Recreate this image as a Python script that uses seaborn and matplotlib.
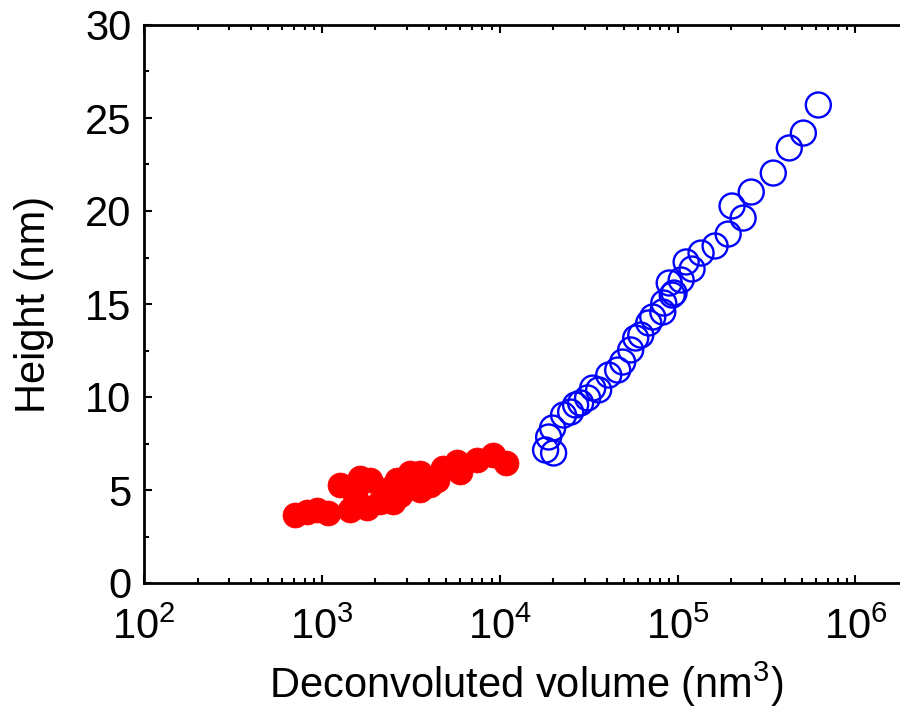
import numpy as np
import pandas as pd
import matplotlib
matplotlib.use("Agg")
import matplotlib.pyplot as plt
import seaborn as sns
from matplotlib.ticker import LogLocator, MultipleLocator

# --- data ---
red_volume = [708, 828, 942, 1086, 1270, 1445, 1542, 1644, 1803, 1874, 2133, 2275,
              2523, 2659, 2762, 3148, 3583, 3583, 4074, 4466, 4828, 5785, 6015,
              7498, 9225, 10790]
red_height = [3.66, 3.82, 3.92, 3.76, 5.27, 3.92, 4.73, 5.65, 4.03, 5.54, 4.35, 5.0,
              4.35, 5.54, 4.73, 5.91, 5.91, 5.0, 5.27, 5.54, 6.18, 6.51, 5.97,
              6.61, 6.88, 6.45]

blue_volume = [18110, 18840, 19830, 20090, 22850, 25050, 26710, 28490, 31190, 33330,
               35990, 41000, 46050, 49120, 54480, 58160, 62080, 68840, 72500, 82560,
               83600, 89700, 93300, 95500, 104700, 111700, 120600, 135500, 162500,
               192400, 202400, 233500, 259400, 345100, 424600, 509400, 618400]
blue_height = [7.15, 7.85, 8.33, 6.99, 9.03, 9.19, 9.57, 9.68, 9.95, 10.48,
               10.38, 11.18, 11.45, 11.88, 12.53, 13.17, 13.33, 13.98, 14.30, 14.57,
               15.05, 16.13, 15.48, 15.59, 16.29, 17.26, 16.88, 17.74, 18.12,
               18.76, 20.27, 19.62, 21.02, 22.04, 23.39, 24.19, 25.70]

x_ticks = [1e2, 1e3, 1e4, 1e5, 1e6]
x_ticklabels = [r"$\mathregular{10^{2}}$", r"$\mathregular{10^{3}}$", r"$\mathregular{10^{4}}$",
                r"$\mathregular{10^{5}}$", r"$\mathregular{10^{6}}$"]
y_ticks = [0, 5, 10, 15, 20, 25, 30]

sns.set_theme(style="white")
plt.rcParams['font.family'] = ['Liberation Sans', 'DejaVu Sans']
plt.rcParams['mathtext.fontset'] = 'custom'
plt.rcParams['mathtext.rm'] = 'Liberation Sans'
plt.rcParams['text.color'] = 'black'
plt.rcParams['axes.labelcolor'] = 'black'
plt.rcParams['xtick.color'] = 'black'
plt.rcParams['ytick.color'] = 'black'

fig = plt.figure(figsize=(9, 7.09), dpi=100)
ax = fig.add_axes([144/900, 126/709, (909-144)/900, (583-25)/709])

red_df = pd.DataFrame({"volume": red_volume, "height": red_height})
blue_df = pd.DataFrame({"volume": blue_volume, "height": blue_height})

sns.scatterplot(data=blue_df, x="volume", y="height", ax=ax, s=324, marker="o",
                facecolor="none", edgecolor="#0000FF", linewidth=1.7, zorder=3, clip_on=False)
sns.scatterplot(data=red_df, x="volume", y="height", ax=ax, s=324, marker="o",
                color="#FF0000", edgecolor="#FF0000", linewidth=0.5, zorder=3, clip_on=False)

ax.set_xscale("log")
ax.set_xlim(1e2, 2e6)
ax.set_ylim(0, 30)
ax.set_xticks(x_ticks)
ax.set_xticklabels(x_ticklabels)
ax.xaxis.set_minor_locator(LogLocator(base=10, subs=np.arange(2, 10), numticks=20))
ax.set_yticks(y_ticks)
ax.yaxis.set_minor_locator(MultipleLocator(2.5))

for sp in ax.spines.values():
    sp.set_linewidth(2.0)
    sp.set_color("black")
    sp.set_visible(True)

ax.tick_params(which="both", direction="in", top=True, right=True, bottom=True, left=True,
               color="black", labelcolor="black")
ax.tick_params(which="major", length=6, width=1.5, labelsize=30, pad=9)
ax.tick_params(which="minor", length=3.5, width=1.5)
ax.tick_params(axis="x", which="major", pad=18)

ax.set_xlabel(r"Deconvoluted volume (nm$^{3}$)", fontsize=30, labelpad=8)
ax.set_ylabel("Height (nm)", fontsize=30, labelpad=22)
ax.grid(False)

fig.savefig("out.png", dpi=100)
